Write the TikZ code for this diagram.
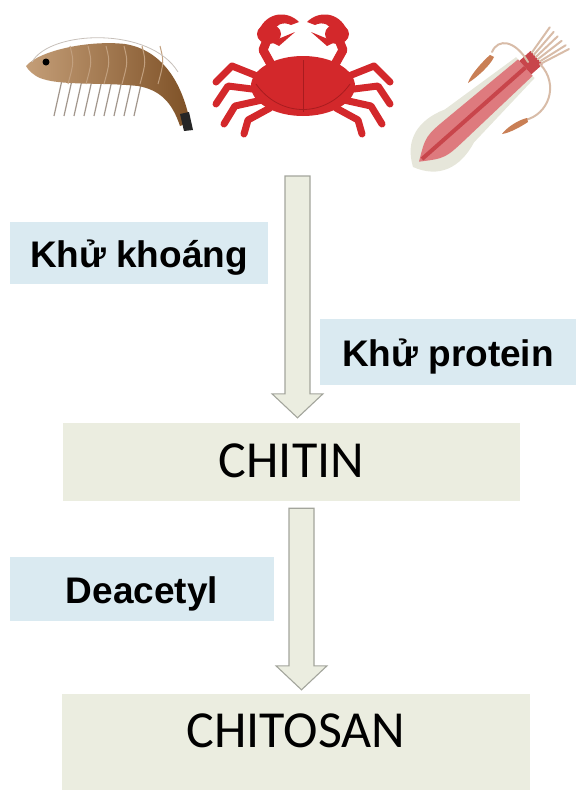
\documentclass[tikz,border=0pt]{standalone}
\usepackage{fontspec}
\usepackage{tikz}
\usetikzlibrary{calc}
\newfontfamily\stagefont{Carlito}
\newfontfamily\stepfont{Liberation Sans}

\definecolor{chbox}     {HTML}{EBEDE0}
\definecolor{chlabel}   {HTML}{DAEAF1}
\definecolor{chrule}    {HTML}{A3A59C}
\definecolor{chshrimp}  {HTML}{A87848}
\definecolor{chshrimpd} {HTML}{7E5126}
\definecolor{chshrimpl} {HTML}{C49E78}
\definecolor{chleg}     {HTML}{A2968C}
\definecolor{chcrab}    {HTML}{D3282B}
\definecolor{chcrabd}   {HTML}{A81C1F}
\definecolor{chsquid}   {HTML}{DE7A7E}
\definecolor{chsquidd}  {HTML}{C8454B}
\definecolor{chfin}     {HTML}{E6E6DA}
\definecolor{chclub}    {HTML}{C97F55}
\definecolor{charm}     {HTML}{D8BCA8}

\tikzset{
  chstage/.style={fill=chbox, inner sep=0pt, text height=34pt,
                  font=\stagefont\fontsize{52}{60}\selectfont},
  chstep/.style={fill=chlabel, inner sep=0pt, text height=32pt, text depth=3pt,
                 font=\stepfont\bfseries\fontsize{37}{42}\selectfont},
  chflow/.style={draw=chrule, fill=chbox, line width=1.1pt, line join=miter},
  chcrableg/.style={chcrab, line width=7pt, line cap=round, line join=round},
  chtentacle/.style={charm, line width=2pt, line cap=round},
}

% hollow block arrow from #1 down to the tip #2
\newcommand{\chblockarrow}[2]{%
  \draw[chflow] ($(#1)+(-12.5,0)$) -- ($(#2)+(-12.5,-24)$) -- ($(#2)+(-25.5,-24)$) -- (#2)
    -- ($(#2)+(25.5,-24)$) -- ($(#2)+(12.5,-24)$) -- ($(#1)+(12.5,0)$) -- cycle;}

\begin{document}
\begin{tikzpicture}[x=1pt, y=-1pt]
  \useasboundingbox (0,0) rectangle (576,790);

  % shrimp
  \foreach \x in {62,72,...,142}
    \draw[chleg, line width=1.2pt] (\x,80) -- ++(-8,36);
  \shade[left color=chshrimpl, right color=chshrimpd]
    (26,66) .. controls (40,50) and (90,40) .. (125,44)
    .. controls (162,50) and (182,82) .. (190,122) -- (180,126)
    .. controls (172,102) and (160,90) .. (138,86)
    .. controls (100,82) and (60,86) .. (40,78)
    .. controls (33,75) and (28,70) .. (26,66) -- cycle;
  \foreach \x in {70,88,...,160}
    \draw[chshrimp!70!white, line width=1pt] (\x,46) .. controls (\x+4,62) .. (\x-2,84);
  \draw[chleg!60!white, line width=0.8pt] (32,62) .. controls (50,30) and (150,26) .. (178,72);
  \fill[black!85] (180,114) -- (189,112) -- (193,130) -- (184,131) -- cycle;
  \fill[black] (46,62) circle (3.5);

  % crab
  \foreach \s in {1,-1}{
    \begin{scope}[shift={(303,0)}, xscale=\s]
      \draw[chcrableg] (-41,78) -- (-71,66) -- (-87,82);
      \draw[chcrableg] (-43,90) -- (-75,86) -- (-87,104);
      \draw[chcrableg] (-41,100) -- (-68,106) -- (-79,124);
      \draw[chcrableg] (-33,108) -- (-55,120) -- (-59,134);
      \draw[chcrableg, line width=9pt] (-30,68) -- (-40,50) -- (-36,40);
      \fill[chcrab] (-34,34) ellipse (12 and 10);
      \fill[chcrab] (-44,30) .. controls (-36,12) and (-16,10) .. (-4,22)
        -- (-12,25) .. controls (-20,21) and (-28,25) .. (-30,32) -- cycle;
      \fill[chcrab] (-32,42) -- (-8,32) -- (-24,46) -- cycle;
    \end{scope}}
  \fill[chcrab] (303,86) ellipse (52 and 30);
  \draw[chcrabd, line width=1pt] (303,60) -- (303,112);
  \draw[chcrabd, line width=0.8pt] (256,84) .. controls (280,118) and (326,118) .. (350,84);

  % squid
  \begin{scope}[shift={(413,167)}, rotate=41.5]
    \fill[chfin] (0,0) .. controls (12,-26) and (35,-32) .. (62,-22) -- (150,-14)
      -- (150,14) -- (62,22) .. controls (35,32) and (12,26) .. (0,0) -- cycle;
    \fill[chsquid] (8,0) .. controls (30,-15) .. (60,-14) -- (150,-11)
      -- (150,11) -- (60,14) .. controls (30,15) .. (8,0) -- cycle;
    \draw[chsquidd, line width=4pt] (12,0) -- (150,0);
    \fill[chsquidd] (150,-9) rectangle (165,9);
    \foreach \v in {-14,-8,-2,4,10,15}
      \draw[chtentacle] (165,\v/2) -- (195,\v);
  \end{scope}
  \draw[chtentacle] (528,62) .. controls (515,40) and (498,38) .. (492,52);
  \fill[chclub] (490,55) .. controls (484,60) and (470,75) .. (468,83)
    .. controls (476,78) and (490,66) .. (494,57) -- cycle;
  \draw[chtentacle] (540,64) .. controls (560,85) and (548,115) .. (525,120);
  \fill[chclub] (527,118) .. controls (518,120) and (506,128) .. (502,134)
    .. controls (510,133) and (522,126) .. (528,122) -- cycle;

  % process steps
  \node[chstage, minimum width=457pt, minimum height=78pt, text depth=4pt]
    (chitin) at (291.5,462) {CHITIN};
  \node[chstage, minimum width=468pt, minimum height=96pt, text depth=24pt]
    (chitosan) at (296,742) {CHITOSAN};

  \node[chstep, minimum width=258pt, minimum height=62pt] (khoang) at (139,253) {Khử khoáng};
  \node[chstep, minimum width=256pt, minimum height=66pt] (protein) at (448,352) {Khử protein};
  \node[chstep, minimum width=264pt, minimum height=64pt] (deacetyl) at (142,589) {Deacetyl};

  \coordinate (a1top) at (297.5,176);
  \coordinate (a1tip) at ($(a1top |- chitin.north)+(0,-5)$);
  \coordinate (a2top) at ($(chitin.south -| 301.5,0)+(0,7)$);
  \coordinate (a2tip) at ($(a2top |- chitosan.north)+(0,-4)$);
  \chblockarrow{a1top}{a1tip}
  \chblockarrow{a2top}{a2tip}
\end{tikzpicture}
\end{document}
